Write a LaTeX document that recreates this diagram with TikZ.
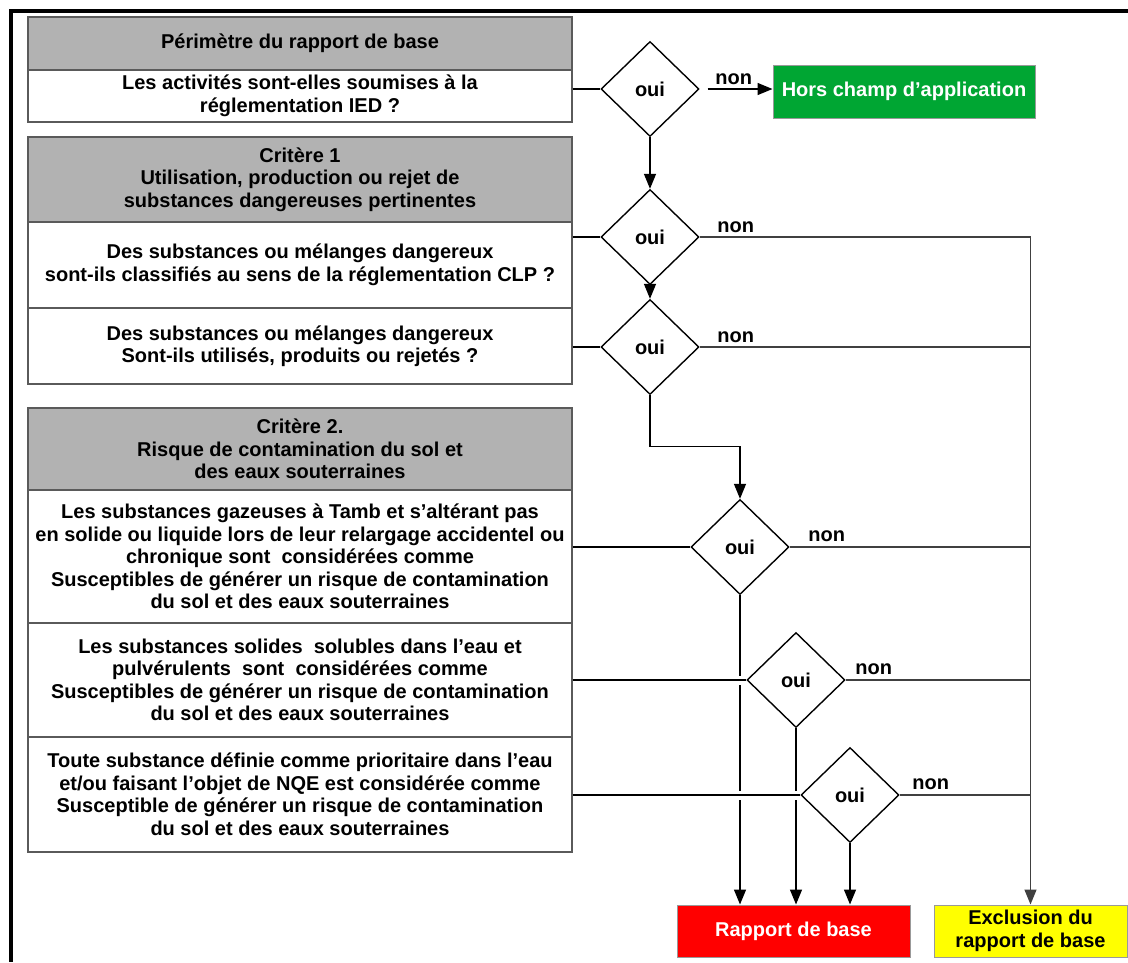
\documentclass[tikz,border=0pt]{standalone}
\usepackage{fontspec}
\setmainfont{Liberation Sans}
\usetikzlibrary{shapes.geometric,arrows.meta}
\definecolor{hdrgray}{RGB}{178,178,178}
\definecolor{boxgray}{RGB}{90,90,90}
\definecolor{hcgreen}{RGB}{0,166,51}
\definecolor{rbred}{RGB}{255,0,0}
\definecolor{exyellow}{RGB}{255,255,0}
\begin{document}
\begin{tikzpicture}[x=1pt,y=-1pt,
  every node/.style={font=\bfseries\fontsize{20}{22.5}\selectfont, align=center, inner sep=0pt},
  hdr/.style={draw=boxgray, line width=1.3pt, fill=hdrgray, minimum width=544pt},
  qrow/.style={draw=boxgray, line width=1.3pt, fill=white, minimum width=544pt},
  dec/.style={diamond, draw=black, line width=1.4pt, fill=white, minimum width=98pt, minimum height=95pt, font=\bfseries\fontsize{20}{22}\selectfont},
  lbl/.style={font=\bfseries\fontsize{20}{22}\selectfont, anchor=south west},
  conn/.style={draw=black, line width=1.4pt},
  nconn/.style={draw=black!75, line width=1.3pt},
  arr/.style={conn, -{Triangle[length=15pt,width=12pt]}},
  gap/.style={fill=white, minimum width=6pt, minimum height=9pt, inner sep=0pt},
  outbox/.style={draw=black!40, line width=1pt, minimum height=52pt}
]
\useasboundingbox (0,0) rectangle (1128,962);
\fill[white] (0,0) rectangle (1128,962);
% frame
\draw[line width=4pt] (1128,11) -- (11,11) -- (11,962);

% left boxes
\node[hdr, minimum height=53pt] (h1) at (300,43.5) {\raisebox{-2pt}{Périmètre du rapport de base}};
\node[qrow, minimum height=52pt] (q1) at (300,96) {Les activités sont-elles soumises à la\\réglementation IED ?};
\node[hdr, minimum height=85pt] (h2) at (300,179.5) {Critère 1\\Utilisation, production ou rejet de\\substances dangereuses pertinentes};
\node[qrow, minimum height=86pt] (q2) at (300,265) {Des substances ou mélanges dangereux\\sont-ils classifiés au sens de la réglementation CLP ?};
\node[qrow, minimum height=76pt] (q3) at (300,346) {Des substances ou mélanges dangereux\\Sont-ils utilisés, produits ou rejetés ?};
\node[hdr, minimum height=82pt] (h3) at (300,449) {Critère 2.\\Risque de contamination du sol et\\des eaux souterraines};
\node[qrow, minimum height=133pt] (q4) at (300,556.5) {Les substances gazeuses à Tamb et s’altérant pas\\en solide ou liquide lors de leur relargage accidentel ou\\chronique sont\ \ considérées comme\\Susceptibles de générer un risque de contamination\\du sol et des eaux souterraines};
\node[qrow, minimum height=114pt] (q5) at (300,680) {Les substances solides\ \ solubles dans l’eau et\\pulvérulents\ \ sont\ \ considérées comme\\Susceptibles de générer un risque de contamination\\du sol et des eaux souterraines};
\node[qrow, minimum height=115pt] (q6) at (300,794.5) {Toute substance définie comme prioritaire dans l’eau\\et/ou faisant l’objet de NQE est considérée comme\\Susceptible de générer un risque de contamination\\du sol et des eaux souterraines};

% decisions
\node[dec] (d1) at (650,89) {oui};
\node[dec] (d2) at (650,237) {oui};
\node[dec] (d3) at (650,347) {oui};
\node[dec] (d4) at (740,547) {oui};
\node[dec] (d5) at (796,680) {oui};
\node[dec] (d6) at (850,795) {oui};

% outcomes
\node[outbox, fill=hcgreen, text=white, minimum width=262pt, minimum height=53pt] (hc) at (904,91.5) {Hors champ d’application};
\node[outbox, fill=rbred, text=white, minimum width=233pt] (rb) at (793.5,931) {Rapport de base};
\node[outbox, fill=exyellow, minimum width=193pt] (ex) at (1030.5,931) {Exclusion du\\rapport de base};

% main flow
\draw[arr, shorten <=8pt] (d1.east) -- (d1.east -| hc.west) node[lbl, pos=0, xshift=15pt, yshift=4pt] {non};
\draw[arr] (d1.south) -- (d2.north);
\draw[arr] (d2.south) -- (d3.north);
\draw[arr] (d3.south) -- ++(0,51) -| (d4.north);
\draw[arr] (d4.south) -- (d4.south |- rb.north);
\draw[arr] (d5.south) -- (d5.south |- rb.north);
\draw[arr] (d6.south) -- (d6.south |- rb.north);

% non branches
\draw[nconn] (d2.east) -- (d2.east -| ex.north) node[lbl, pos=0, xshift=17pt, yshift=4pt] {non};
\draw[nconn] (d3.east) -- (d3.east -| ex.north) node[lbl, pos=0, xshift=17pt, yshift=4pt] {non};
\draw[nconn] (d4.east) -- (d4.east -| ex.north) node[lbl, pos=0, xshift=18pt, yshift=5pt] {non};
\draw[nconn] (d5.east) -- (d5.east -| ex.north) node[lbl, pos=0, xshift=9pt, yshift=5pt] {non};
\draw[nconn] (d6.east) -- (d6.east -| ex.north) node[lbl, pos=0, xshift=12pt, yshift=5pt] {non};
\draw[arr, draw=black!75] (d2.east -| ex.north) -- (ex.north);

% gaps where lines cross
\node[gap] at (d4.south |- d5.west) {};
\node[gap] at (d4.south |- d6.west) {};
\node[gap] at (d5.south |- d6.west) {};

% box to decision links
\draw[conn] (q1.east |- d1.west) -- (d1.west);
\draw[conn] (q2.east |- d2.west) -- (d2.west);
\draw[conn] (q3.east |- d3.west) -- (d3.west);
\draw[conn] (q4.east |- d4.west) -- (d4.west);
\draw[conn] (q5.east |- d5.west) -- (d5.west);
\draw[conn] (q6.east |- d6.west) -- (d6.west);
\end{tikzpicture}
\end{document}
